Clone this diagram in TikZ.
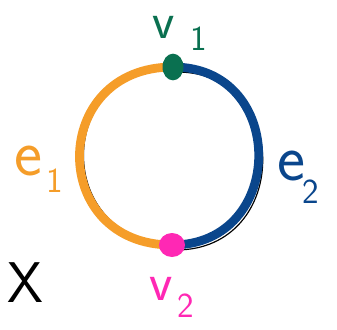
\documentclass[tikz,border=0pt]{standalone}
\usepackage{fontspec}
\usepackage{tikz}
\usetikzlibrary{shapes.geometric,positioning,backgrounds}
\definecolor{edgeorange}{RGB}{245,157,41}
\definecolor{edgeblue}{RGB}{10,70,140}
\definecolor{vertgreen}{RGB}{10,112,80}
\definecolor{vertpink}{RGB}{255,40,180}
\newcommand{\lowidx}[3]{\kern#1\raisebox{-#2}{\fontsize{30}{30}\selectfont #3}}

\begin{document}
\begin{tikzpicture}[x=0.03cm, y=-0.03cm,
    vertex/.style={draw=none, ellipse, inner sep=0pt},
    edge/.style={line width=7.5pt},
    sketch/.style={black, line width=1pt},
    lab/.style={font=\sffamily\fontsize{#1}{#1}\selectfont, inner sep=0pt, anchor=base west}]
    \useasboundingbox (0,0) rectangle (337,329);

    \node [vertex, fill=vertgreen, minimum width=0.63cm, minimum height=0.8cm] (v1) at (173,67) {};
    \node [vertex, fill=vertpink, minimum width=0.78cm, minimum height=0.72cm] (v2) at (172,245) {};

    \begin{scope}[on background layer]
        % pencil sketch under the coloured edges
        \draw [sketch] ([shift={(4,-1)}]v1.center) to[out=180, in=180, looseness=1.78] ([shift={(4,-1)}]v2.center);
        \draw [sketch] ([shift={(4,5)}]v1.center) to[out=0, in=0, looseness=1.65] ([shift={(4,5)}]v2.center);
        \draw [edge, edgeorange] (v1.center) to[out=180, in=180, looseness=1.78] (v2.center);
        \draw [edge, edgeblue] (v1.center) to[out=0, in=0, looseness=1.65] (v2.center);
    \end{scope}

    % labels
    \node [lab=44, text=vertgreen] (v1lab) at (152,38) {v\lowidx{14pt}{11pt}{1}};
    \node [lab=46, text=vertpink] (v2lab) at (149,300) {v\lowidx{4pt}{15pt}{2}};
    \node [lab=57, text=edgeorange] (e1lab) at (14,175) {e\lowidx{4pt}{15pt}{1}};
    \node [lab=57, text=edgeblue] (e2lab) at (277,180) {e\lowidx{-2pt}{20pt}{2}};
    \node [lab=49] (space) at (7,302) {X};
\end{tikzpicture}
\end{document}
